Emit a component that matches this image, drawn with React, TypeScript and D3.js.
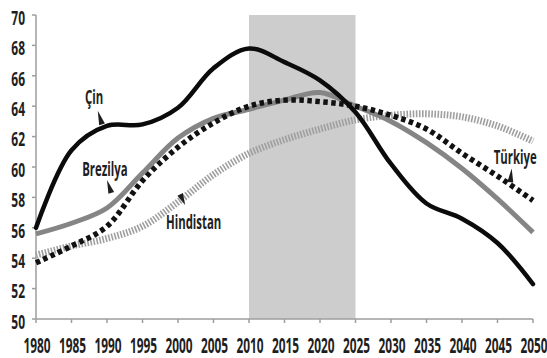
import React from "react";
import * as d3 from "d3";

// Working-age population share (%), 1980–2050
const years = [1980, 1985, 1990, 1995, 2000, 2005, 2010, 2015, 2020, 2025, 2030, 2035, 2040, 2045, 2050];
const cin = [56.0, 61.1, 62.7, 62.8, 63.9, 66.5, 67.8, 66.9, 65.7, 63.6, 60.2, 57.6, 56.6, 55.0, 52.3];
const brezilya = [55.6, 56.3, 57.3, 59.6, 61.9, 63.2, 63.8, 64.4, 64.9, 64.0, 63.0, 61.6, 59.9, 57.9, 55.7];
const turkiye = [53.7, 54.8, 56.1, 59.1, 61.3, 62.9, 64.0, 64.4, 64.3, 64.0, 63.4, 62.5, 60.9, 59.4, 57.8];
const hindistan = [54.2, 54.8, 55.3, 56.1, 57.7, 59.5, 60.9, 61.8, 62.5, 63.1, 63.4, 63.5, 63.3, 62.7, 61.7];

const yTicks = [50, 52, 54, 56, 58, 60, 62, 64, 66, 68, 70];
const xTicks = [1980, 1985, 1990, 1995, 2000, 2005, 2010, 2015, 2020, 2025, 2030, 2035, 2040, 2045, 2050];
const band = [2010, 2025];

// Callouts: text centre, pointer tip (near text) and pointer base (on the curve), in data units
const callouts = [
  { text: "Çin", tx: 1988.2, ty: 64.6, px: 1988.7, py: 63.7, bx: 1989.3, by: 62.8 },
  { text: "Brezilya", tx: 1989.7, ty: 59.9, px: 1990.0, py: 59.15, bx: 1990.6, by: 58.3 },
  { text: "Hindistan", tx: 2002.2, ty: 56.4, px: 2001.0, py: 57.5, bx: 2000.3, by: 58.2 },
  { text: "Türkiye", tx: 2047.5, ty: 60.7, px: 2047.0, py: 59.9, bx: 2046.8, by: 59.0 },
];

const W = 547;
const H = 358;
const FONT = "'Open Sans', 'Liberation Sans', sans-serif";
const INK = "#1e1e1e";

export default function App() {
  const x = d3.scaleLinear().domain([1980, 2050]).range([36, 533]);
  const y = d3.scaleLinear().domain([50, 70]).range([319, 15]);

  const line = d3
    .line<number>()
    .x((_, i) => x(years[i]))
    .y((v) => y(v))
    .curve(d3.curveCatmullRom.alpha(0.5));

  const pointer = (c: (typeof callouts)[number]) => {
    const tx = x(c.px), ty = y(c.py);
    const bx = x(c.bx), by = y(c.by);
    const dx = bx - tx, dy = by - ty;
    const len = Math.hypot(dx, dy) || 1;
    const nx = (-dy / len) * 3, ny = (dx / len) * 3;
    return `M${tx},${ty}L${bx + nx},${by + ny}L${bx - nx},${by - ny}Z`;
  };

  return (
    <svg width={W} height={H} style={{ position: "absolute", left: 0, top: 0, background: "#fff" }}>
      {/* projection window */}
      <rect
        x={x(band[0])}
        y={y(70)}
        width={x(band[1]) - x(band[0])}
        height={y(50) - y(70)}
        fill="#cdcdcd"
      />

      {/* axes */}
      <g stroke="#9e9e9e" strokeWidth={1.5}>
        <line x1={x(1980)} x2={x(1980)} y1={y(70)} y2={y(50)} />
        <line x1={x(1980)} x2={x(2050)} y1={y(50)} y2={y(50)} />
        {yTicks.map((t) => (
          <line key={t} x1={x(1980) - 4} x2={x(1980)} y1={y(t)} y2={y(t)} />
        ))}
        {xTicks.map((t) => (
          <line key={t} x1={x(t)} x2={x(t)} y1={y(50)} y2={y(50) + 4} />
        ))}
      </g>

      <g fontFamily={FONT} fontWeight={700} fill={INK} fontSize={20}>
        {yTicks.map((t) => (
          <text
            key={t}
            transform={`translate(${x(1980) - 11},${y(t) + 2}) scale(0.6,1)`}
            textAnchor="end"
            dominantBaseline="central"
          >
            {t}
          </text>
        ))}
      </g>
      <g fontFamily={FONT} fontWeight={700} fill={INK} fontSize={22}>
        {xTicks.map((t) => (
          <text
            key={t}
            transform={`translate(${x(t) + 1},${y(50) + 25}) scale(0.54,1)`}
            textAnchor="middle"
            dominantBaseline="central"
          >
            {t}
          </text>
        ))}
      </g>

      {/* series */}
      <path d={line(hindistan) ?? ""} fill="none" stroke="#9f9f9f" strokeWidth={7} strokeDasharray="1.6 1.5" />
      <path d={line(brezilya) ?? ""} fill="none" stroke="#858585" strokeWidth={5} />
      <path d={line(turkiye) ?? ""} fill="none" stroke="#111" strokeWidth={5.5} strokeDasharray="4.5 3.5" />
      <path d={line(cin) ?? ""} fill="none" stroke="#0b0b0b" strokeWidth={4.5} strokeLinecap="round" />

      {/* callouts */}
      <g fontFamily={FONT} fontWeight={700} fill={INK} fontSize={19}>
        {callouts.map((c) => (
          <g key={c.text}>
            <path d={pointer(c)} fill={INK} />
            <text
              transform={`translate(${x(c.tx)},${y(c.ty)}) scale(0.6,1)`}
              textAnchor="middle"
              dominantBaseline="central"
            >
              {c.text}
            </text>
          </g>
        ))}
      </g>
    </svg>
  );
}
